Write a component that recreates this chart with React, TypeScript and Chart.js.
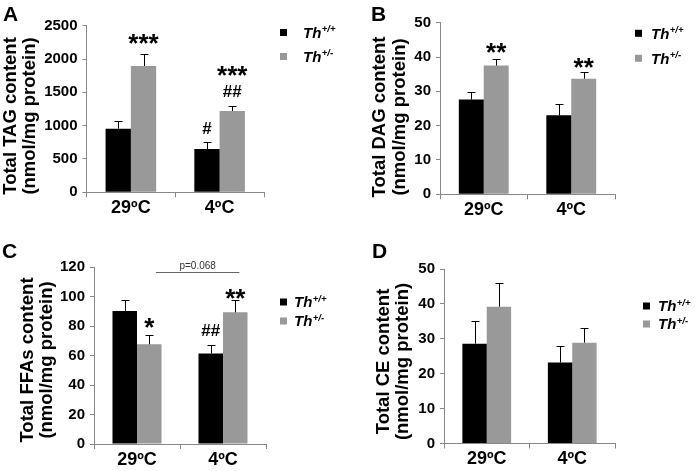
import React, { useEffect, useRef } from "react";
import { Chart, registerables } from "chart.js";

Chart.register(...registerables);

// ---------------- data ----------------
const categories = ["29ºC", "4ºC"];
const legendBase = "Th";
const legendSup = ["+/+", "+/-"];

const tagWT = [955, 650];
const tagWTErr = [110, 100];
const tagHet = [1895, 1220];
const tagHetErr = [175, 70];
const tagTicks = { max: 2500, step: 500 };

const dagWT = [27.6, 23.0];
const dagWTErr = [2.3, 3.4];
const dagHet = [37.5, 33.7];
const dagHetErr = [1.8, 2.0];
const dagTicks = { max: 50, step: 10 };

const ffaWT = [90.4, 61.4];
const ffaWTErr = [7.2, 5.9];
const ffaHet = [67.7, 89.4];
const ffaHetErr = [6.4, 8.1];
const ffaTicks = { max: 120, step: 20 };

const ceWT = [28.6, 23.2];
const ceWTErr = [6.6, 4.6];
const ceHet = [39.2, 28.9];
const ceHetErr = [6.9, 4.1];
const ceTicks = { max: 50, step: 10 };

const tagMarkTexts = ["***", "***", "##", "#"];
const dagMarkTexts = ["**", "**"];
const ffaMarkTexts = ["*", "**", "##"];
const ffaPText = "p=0.068";

// ---------------- layout / style ----------------
const FONT = "'Liberation Sans', Arial, Helvetica, sans-serif";
const COLORS = ["#000000", "#999999"];
const AXIS = "#888888";

type Mark = { ds: number; cat: number; text: string; lift: number; size: number };
type Panel = {
  letter: string;
  title: string[];
  box: { left: number; top: number; w: number; h: number };
  area: { l: number; r: number; t: number; b: number };
  ticks: { max: number; step: number };
  series: number[][];
  errors: number[][];
  marks: Mark[];
  legend: { sqX: number; textX: number; rows: number[] };
  titlePos: { x: number; y: number; gap: number };
  letterPos: { x: number; y: number };
  bracket?: { from: number; to: number; yVal: number; text: string };
};

const panels: Panel[] = [
  {
    letter: "A",
    title: ["Total TAG content", "(nmol/mg protein)"],
    box: { left: 0, top: 0, w: 348, h: 225 },
    area: { l: 86.5, r: 264, t: 25.7, b: 192.3 },
    ticks: tagTicks,
    series: [tagWT, tagHet],
    errors: [tagWTErr, tagHetErr],
    marks: [
      { ds: 1, cat: 0, text: tagMarkTexts[0], lift: 2.5, size: 26 },
      { ds: 1, cat: 1, text: tagMarkTexts[1], lift: 22, size: 26 },
      { ds: 1, cat: 1, text: tagMarkTexts[2], lift: 9.2, size: 17 },
      { ds: 0, cat: 1, text: tagMarkTexts[3], lift: 8.2, size: 17 },
    ],
    legend: { sqX: 280, textX: 303, rows: [32.5, 56.5] },
    titlePos: { x: 10.5, y: 116, gap: 19.5 },
    letterPos: { x: 3, y: 20.5 },
  },
  {
    letter: "B",
    title: ["Total DAG content", "(nmol/mg protein)"],
    box: { left: 348, top: 0, w: 349, h: 225 },
    area: { l: 92, r: 267, t: 22.7, b: 194.3 },
    ticks: dagTicks,
    series: [dagWT, dagHet],
    errors: [dagWTErr, dagHetErr],
    marks: [
      { ds: 1, cat: 0, text: dagMarkTexts[0], lift: -2, size: 26 },
      { ds: 1, cat: 1, text: dagMarkTexts[1], lift: -4.5, size: 26 },
    ],
    legend: { sqX: 287, textX: 303, rows: [33.3, 58.3] },
    titlePos: { x: 32, y: 117, gap: 19.5 },
    letterPos: { x: 23, y: 20.5 },
  },
  {
    letter: "C",
    title: ["Total FFAs content", "(nmol/mg protein)"],
    box: { left: 0, top: 225, w: 348, h: 246 },
    area: { l: 94, r: 266, t: 42.3, b: 219 },
    ticks: ffaTicks,
    series: [ffaWT, ffaHet],
    errors: [ffaWTErr, ffaHetErr],
    marks: [
      { ds: 1, cat: 0, text: ffaMarkTexts[0], lift: -0.8, size: 26 },
      { ds: 1, cat: 1, text: ffaMarkTexts[1], lift: -7, size: 26 },
      { ds: 0, cat: 1, text: ffaMarkTexts[2], lift: 9.4, size: 17 },
    ],
    legend: { sqX: 280, textX: 294, rows: [77, 96] },
    titlePos: { x: 27.5, y: 135, gap: 19.5 },
    letterPos: { x: 2, y: 33 },
    bracket: { from: 0.22, to: 1.19, yVal: 116.7, text: ffaPText },
  },
  {
    letter: "D",
    title: ["Total CE content", "(nmol/mg protein)"],
    box: { left: 348, top: 225, w: 349, h: 246 },
    area: { l: 96, r: 267, t: 44, b: 218.5 },
    ticks: ceTicks,
    series: [ceWT, ceHet],
    errors: [ceWTErr, ceHetErr],
    marks: [],
    legend: { sqX: 295, textX: 310, rows: [81, 99] },
    titlePos: { x: 35.5, y: 136.5, gap: 19.5 },
    letterPos: { x: 24, y: 33.3 },
  },
];

function decorPlugin(p: Panel) {
  return {
    id: "decor" + p.letter,
    afterDatasetsDraw(chart: any) {
      const ctx = chart.ctx as CanvasRenderingContext2D;
      const ys = chart.scales.y;
      ctx.save();
      ctx.strokeStyle = "#000";
      ctx.lineWidth = 1;
      chart.data.datasets.forEach((ds: any, di: number) => {
        const meta = chart.getDatasetMeta(di);
        meta.data.forEach((bar: any, i: number) => {
          const v = ds.data[i];
          const top = Math.round(ys.getPixelForValue(v + p.errors[di][i])) + 0.5;
          const x = Math.round(bar.x) + 0.5;
          ctx.beginPath();
          ctx.moveTo(x, bar.y);
          ctx.lineTo(x, top);
          ctx.moveTo(x - 4, top);
          ctx.lineTo(x + 4, top);
          ctx.stroke();
        });
      });
      ctx.restore();
    },
    afterDraw(chart: any) {
      const ctx = chart.ctx as CanvasRenderingContext2D;
      const xs = chart.scales.x;
      const ys = chart.scales.y;
      ctx.save();
      // significance marks
      ctx.fillStyle = "#000";
      ctx.textAlign = "center";
      ctx.textBaseline = "alphabetic";
      p.marks.forEach((m) => {
        const bar = chart.getDatasetMeta(m.ds).data[m.cat];
        const v = chart.data.datasets[m.ds].data[m.cat];
        const top = ys.getPixelForValue(v + p.errors[m.ds][m.cat]);
        ctx.font = `bold ${m.size}px ${FONT}`;
        ctx.fillText(m.text, bar.x, top - m.lift);
      });
      // bracket
      if (p.bracket) {
        const b = p.bracket;
        const x1 = xs.getPixelForValue(b.from);
        const x2 = xs.getPixelForValue(b.to);
        const yy = Math.round(ys.getPixelForValue(b.yVal)) + 0.5;
        ctx.strokeStyle = "#666";
        ctx.lineWidth = 1;
        ctx.beginPath();
        ctx.moveTo(x1, yy);
        ctx.lineTo(x2, yy);
        ctx.stroke();
        ctx.font = `10px ${FONT}`;
        ctx.fillStyle = "#333";
        ctx.fillText(b.text, (x1 + x2) / 2, yy - 3.8);
      }
      // legend
      chart.data.datasets.forEach((ds: any, i: number) => {
        const ry = p.legend.rows[i];
        ctx.fillStyle = ds.backgroundColor;
        ctx.fillRect(p.legend.sqX, ry - 3.5, 7, 7);
        ctx.fillStyle = "#000";
        ctx.textAlign = "left";
        ctx.font = `italic bold 15px ${FONT}`;
        ctx.fillText(legendBase, p.legend.textX, ry + 5.4);
        const w = ctx.measureText(legendBase).width;
        ctx.font = `italic bold 9.5px ${FONT}`;
        ctx.fillText(legendSup[i], p.legend.textX + w + 0.5, ry - 0.5);
      });
      // y title
      ctx.save();
      ctx.translate(p.titlePos.x, p.titlePos.y);
      ctx.rotate(-Math.PI / 2);
      ctx.textAlign = "center";
      ctx.textBaseline = "middle";
      ctx.font = `bold 18.5px ${FONT}`;
      ctx.fillStyle = "#000";
      p.title.forEach((t, i) => ctx.fillText(t, 0, i * p.titlePos.gap));
      ctx.restore();
      // panel letter
      ctx.textAlign = "left";
      ctx.textBaseline = "alphabetic";
      ctx.font = `bold 21px ${FONT}`;
      ctx.fillStyle = "#000";
      ctx.fillText(p.letter, p.letterPos.x, p.letterPos.y);
      ctx.restore();
    },
  };
}

function PanelChart({ p }: { p: Panel }) {
  const ref = useRef<HTMLCanvasElement>(null);
  useEffect(() => {
    if (!ref.current) return;
    const xHeight = p.box.h - p.area.b;
    const chart = new Chart(ref.current, {
      type: "bar",
      data: {
        labels: categories,
        datasets: p.series.map((s, i) => ({
          label: legendBase + legendSup[i],
          data: s,
          backgroundColor: COLORS[i],
          borderWidth: 0,
          barPercentage: 1,
          categoryPercentage: 0.57,
        })),
      },
      options: {
        responsive: false,
        animation: false,
        devicePixelRatio: 1,
        layout: { padding: { left: 0, top: p.area.t, right: p.box.w - p.area.r, bottom: 0 } },
        plugins: { legend: { display: false }, tooltip: { enabled: false } },
        scales: {
          x: {
            offset: true,
            grid: { offset: true, drawOnChartArea: false, tickLength: 5, color: AXIS, lineWidth: 1 },
            border: { display: true, color: AXIS, width: 1 },
            ticks: { color: "#000", font: { family: FONT, size: 18, weight: "bold" }, padding: 0, maxRotation: 0 },
            afterFit: (s: any) => { s.height = xHeight; },
          },
          y: {
            min: 0,
            max: p.ticks.max,
            grid: { drawOnChartArea: false, tickLength: 4, color: AXIS, lineWidth: 1 },
            border: { display: true, color: AXIS, width: 1 },
            ticks: {
              stepSize: p.ticks.step,
              color: "#000",
              font: { family: FONT, size: 15, weight: "bold" },
              padding: 5,
              callback: (v: any) => String(v),
            },
            afterFit: (s: any) => { s.width = p.area.l; },
          },
        },
      },
      plugins: [decorPlugin(p)],
    });
    return () => chart.destroy();
  }, [p]);
  return (
    <canvas
      ref={ref}
      width={p.box.w}
      height={p.box.h}
      style={{ position: "absolute", left: p.box.left, top: p.box.top, width: p.box.w, height: p.box.h }}
    />
  );
}

export default function App() {
  return (
    <div style={{ position: "absolute", left: 0, top: 0, width: 697, height: 471, background: "#fff" }}>
      {panels.map((p) => (
        <PanelChart key={p.letter} p={p} />
      ))}
    </div>
  );
}
